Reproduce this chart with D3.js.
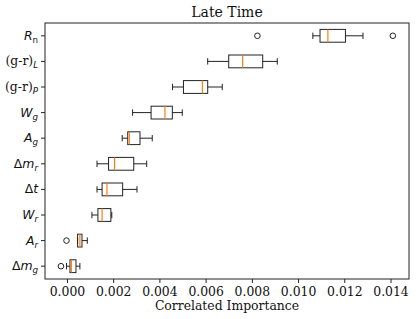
<!DOCTYPE html>
<html>
<head>
<meta charset="utf-8">
<script src="https://cdnjs.cloudflare.com/ajax/libs/d3/7.8.5/d3.min.js"></script>
<style>
  body { margin: 0; background: #fff; }
  svg { display: block; }
</style>
</head>
<body>
<div id="chart"></div>
<script>
// rows, top to bottom: [main, subscript]
var names = [["R", "n"], ["(g-r)", "L"], ["(g-r)", "P"], ["W", "g"], ["A", "g"],
             ["\u0394m", "r"], ["\u0394t", ""], ["W", "r"], ["A", "r"], ["\u0394m", "g"]];
// box stats, in units of 1e-3
var whiskLo = [10.64, 6.09, 4.57, 2.84, 2.39, 1.30, 1.30, 1.08, 0.46, -0.02];
var q1      = [10.95, 7.00, 5.04, 3.64, 2.63, 1.80, 1.52, 1.34, 0.46, 0.13];
var median  = [11.29, 7.60, 5.86, 4.24, 2.70, 2.06, 1.73, 1.52, 0.56, 0.19];
var q3      = [12.05, 8.47, 6.09, 4.56, 3.16, 2.89, 2.41, 1.90, 0.65, 0.39];
var whiskHi = [12.81, 9.10, 6.72, 4.99, 3.69, 3.45, 3.03, 1.94, 0.88, 0.56];
var fliers  = [[8.24, 14.10], [], [], [], [], [], [], [], [-0.02], [-0.26]];
var xTicks  = [0, 0.002, 0.004, 0.006, 0.008, 0.010, 0.012, 0.014];

var W = 416, H = 319;
var m = {left: 45, top: 23, right: 7, bottom: 40};
var pw = W - m.left - m.right, ph = H - m.top - m.bottom;

var svg = d3.select("#chart").append("svg")
	.attr("width", W)
	.attr("height", H);

var x = d3.scaleLinear().domain([-0.00095, 0.0148]).range([0, pw]);
var y = d3.scaleBand().domain(d3.range(names.length)).range([0, ph]);
var bw = y.bandwidth() * 0.5;

var g = svg.append("g").attr("transform", "translate(" + m.left + "," + m.top + ")");

var rows = names.map(function(n, i){
	return {i: i, lo: whiskLo[i]/1000, q1: q1[i]/1000, med: median[i]/1000,
		q3: q3[i]/1000, hi: whiskHi[i]/1000, out: fliers[i].map(function(v){ return v/1000; })};
});

var row = g.selectAll("g.row").data(rows).enter().append("g")
	.attr("class", "row")
	.attr("transform", function(d){ return "translate(0," + (y(d.i) + y.bandwidth()/2) + ")"; });

var stroke = "#222";
// whiskers
row.append("line").attr("x1", function(d){ return x(d.lo); }).attr("x2", function(d){ return x(d.q1); })
	.attr("y1", 0).attr("y2", 0).attr("stroke", stroke);
row.append("line").attr("x1", function(d){ return x(d.q3); }).attr("x2", function(d){ return x(d.hi); })
	.attr("y1", 0).attr("y2", 0).attr("stroke", stroke);
// caps
["lo", "hi"].forEach(function(k){
	row.append("line").attr("x1", function(d){ return x(d[k]); }).attr("x2", function(d){ return x(d[k]); })
		.attr("y1", -bw/4).attr("y2", bw/4).attr("stroke", stroke);
});
// box
row.append("rect")
	.attr("x", function(d){ return x(d.q1); })
	.attr("width", function(d){ return x(d.q3) - x(d.q1); })
	.attr("y", -bw/2).attr("height", bw)
	.attr("fill", "none").attr("stroke", stroke);
// median
row.append("line").attr("x1", function(d){ return x(d.med); }).attr("x2", function(d){ return x(d.med); })
	.attr("y1", -bw/2).attr("y2", bw/2).attr("stroke", "#ff7f0e").attr("stroke-width", 1.2);
// fliers
row.selectAll("circle").data(function(d){ return d.out; }).enter().append("circle")
	.attr("cx", function(v){ return x(v); }).attr("cy", 0).attr("r", 2.8)
	.attr("fill", "none").attr("stroke", stroke);

// frame
g.append("rect").attr("x", 0).attr("y", 0).attr("width", pw).attr("height", ph)
	.attr("fill", "none").attr("stroke", "#222").attr("stroke-width", 1);

// x axis
var xa = g.append("g").attr("transform", "translate(0," + ph + ")")
	.call(d3.axisBottom(x).tickValues(xTicks).tickFormat(d3.format(".3f")).tickSizeInner(4).tickSizeOuter(0).tickPadding(4));
xa.select(".domain").remove();
xa.selectAll("line").attr("stroke", "#222");
xa.selectAll("text").attr("font-family", "DejaVu Serif").attr("font-size", "12.4px").attr("fill", "#111");

// y axis
var ya = g.append("g")
	.call(d3.axisLeft(y).tickSizeInner(4).tickSizeOuter(0).tickFormat(""));
ya.select(".domain").remove();
ya.selectAll("line").attr("stroke", "#222");

var lab = g.selectAll("text.ylab").data(names).enter().append("text")
	.attr("class", "ylab")
	.attr("x", -7)
	.attr("y", function(d, i){ return y(i) + y.bandwidth()/2 + 4; })
	.attr("text-anchor", "end")
	.attr("font-family", "DejaVu Sans")
	.attr("font-size", "12.4px")
	.attr("fill", "#111");

lab.each(function(d){
	var t = d3.select(this);
	var main = d[0];
	if (main === "(g-r)") {
		t.append("tspan").attr("font-family", "DejaVu Serif").text(main);
	} else if (main.charAt(0) === "\u0394") {
		t.append("tspan").text("\u0394");
		t.append("tspan").attr("font-style", "italic").text(main.slice(1));
	} else {
		t.append("tspan").attr("font-style", "italic").text(main);
	}
	if (d[1]) {
		t.append("tspan").attr("font-size", "8.7px").attr("dy", "3")
			.attr("font-style", d[1] === "n" ? "normal" : "italic")
			.text(d[1]);
	}
});

// title and label
svg.append("text").attr("x", m.left + pw/2).attr("y", 17)
	.attr("text-anchor", "middle").attr("font-family", "DejaVu Serif").attr("font-size", "14px")
	.attr("fill", "#111").text("Late Time");
svg.append("text").attr("x", m.left + pw/2).attr("y", 310)
	.attr("text-anchor", "middle").attr("font-family", "DejaVu Serif").attr("font-size", "12.4px")
	.attr("fill", "#111").text("Correlated Importance");
</script>
</body>
</html>
